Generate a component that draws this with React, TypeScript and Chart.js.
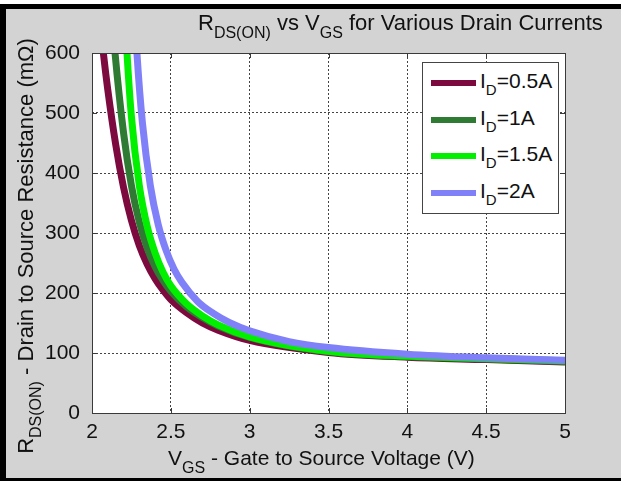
import React, { useEffect, useRef } from "react";
import { Chart, registerables } from "chart.js";

Chart.register(...registerables);

// ---- data ----
const seriesLabels = ["0.5A", "1A", "1.5A", "2A"];
const seriesColors = ["#7c0a3f", "#2f7b33", "#00f000", "#8080f8"];

const vgs05 = [2.03, 2.072, 2.1, 2.15, 2.2, 2.25, 2.3, 2.35, 2.4, 2.45, 2.5, 2.6, 2.7, 2.8, 3.0, 3.5, 4.0, 4.5, 5.0];
const rds05 = [707, 600, 539, 448, 376, 321, 279, 248, 224, 205, 189, 167, 150, 138, 121, 101, 93, 89, 85];

const vgs10 = [2.11, 2.146, 2.2, 2.25, 2.3, 2.35, 2.4, 2.45, 2.5, 2.6, 2.7, 2.8, 3.0, 3.5, 4.0, 4.5, 5.0];
const rds10 = [717, 600, 467, 379, 318, 275, 244, 221, 203, 177, 159, 145, 126, 102, 94, 90, 86];

const vgs15 = [2.2, 2.222, 2.25, 2.3, 2.35, 2.4, 2.45, 2.5, 2.6, 2.7, 2.8, 3.0, 3.5, 4.0, 4.5, 5.0];
const rds15 = [714, 600, 494, 379, 311, 267, 235, 212, 182, 162, 147, 127, 103, 95, 91, 87];

const vgs20 = [2.26, 2.285, 2.32, 2.37, 2.42, 2.47, 2.52, 2.57, 2.67, 2.77, 2.87, 3.0, 3.25, 3.5, 4.0, 4.5, 5.0];
const rds20 = [721, 600, 483, 379, 314, 271, 240, 218, 186, 166, 151, 137, 119, 109, 98, 92, 88];

const xTicks = [2, 2.5, 3, 3.5, 4, 4.5, 5];
const yTicks = [0, 100, 200, 300, 400, 500, 600];

const seriesX = [vgs05, vgs10, vgs15, vgs20];
const seriesY = [rds05, rds10, rds15, rds20];

const FONT = "'Liberation Sans', Arial, Helvetica, sans-serif";

const boxPlugin = {
  id: "matlabBox",
  beforeDraw(chart: any) {
    const { ctx, chartArea: a } = chart;
    ctx.save();
    ctx.fillStyle = "#ffffff";
    ctx.fillRect(a.left, a.top, a.right - a.left, a.bottom - a.top);
    ctx.restore();
  },
  afterDatasetsDraw(chart: any) {
    const { ctx, chartArea: a, scales } = chart;
    ctx.save();
    ctx.strokeStyle = "#3a3a3a";
    ctx.lineWidth = 1;
    ctx.strokeRect(Math.round(a.left) + 0.5, Math.round(a.top) + 0.5, Math.round(a.right - a.left), Math.round(a.bottom - a.top));
    const tl = 5;
    ctx.beginPath();
    for (const v of xTicks) {
      const x = Math.round(scales.x.getPixelForValue(v)) + 0.5;
      ctx.moveTo(x, a.bottom);
      ctx.lineTo(x, a.bottom - tl);
      ctx.moveTo(x, a.top);
      ctx.lineTo(x, a.top + tl);
    }
    for (const v of yTicks) {
      const y = Math.round(scales.y.getPixelForValue(v)) + 0.5;
      ctx.moveTo(a.left, y);
      ctx.lineTo(a.left + tl, y);
      ctx.moveTo(a.right, y);
      ctx.lineTo(a.right - tl, y);
    }
    ctx.stroke();
    ctx.restore();
  },
};

const sub = (t: string, size = 15, top = 7) => (
  <span style={{ fontSize: size, position: "relative", top }}>{t}</span>
);

export default function App() {
  const ref = useRef<HTMLCanvasElement | null>(null);

  useEffect(() => {
    if (!ref.current) return;
    const datasets = seriesLabels.map((lab, i) => ({
      label: "ID=" + lab,
      data: seriesX[i].map((x, j) => ({ x, y: seriesY[i][j] })),
      borderColor: seriesColors[i],
      backgroundColor: seriesColors[i],
      borderWidth: 7,
      pointRadius: 0,
      showLine: true,
      fill: false,
      cubicInterpolationMode: "monotone" as const,
      clip: 0,
      order: seriesLabels.length - i,
    }));
    const chart = new Chart(ref.current, {
      type: "scatter",
      data: { datasets },
      plugins: [boxPlugin],
      options: {
        animation: false,
        responsive: false,
        devicePixelRatio: 1,
        layout: { padding: { top: 53, right: 56, left: 0, bottom: 0 } },
        plugins: { legend: { display: false }, tooltip: { enabled: false }, title: { display: false } },
        scales: {
          x: {
            type: "linear",
            min: 2,
            max: 5,
            afterBuildTicks: (s: any) => {
              s.ticks = xTicks.map((v) => ({ value: v }));
            },
            afterFit: (s: any) => {
              s.height = 68;
            },
            ticks: {
              font: { family: FONT, size: 21 },
              color: "#111",
              padding: 7,
              maxRotation: 0,
              callback: (v: any) => String(v),
            },
            grid: { color: "#444", lineWidth: 1, drawTicks: false },
            border: { display: false, dash: [2, 2] },
          },
          y: {
            type: "linear",
            min: 0,
            max: 600,
            afterBuildTicks: (s: any) => {
              s.ticks = yTicks.map((v) => ({ value: v }));
            },
            afterFit: (s: any) => {
              s.width = 92;
            },
            ticks: {
              font: { family: FONT, size: 21 },
              color: "#111",
              padding: 12,
              callback: (v: any) => String(v),
            },
            grid: { color: "#444", lineWidth: 1, drawTicks: false },
            border: { display: false, dash: [2, 2] },
          },
        },
      },
    } as any);
    return () => chart.destroy();
  }, []);

  const legendRows = seriesLabels.map((lab, i) => (
    <div key={lab} style={{ position: "absolute", left: 0, top: 5 + i * 36.5, height: 30, width: 135 }}>
      <div style={{ position: "absolute", left: 8, top: 12, width: 45, height: 6, background: seriesColors[i] }} />
      <div style={{ position: "absolute", left: 57, top: 0, fontSize: 21, lineHeight: "26px", whiteSpace: "nowrap", color: "#111" }}>
        I{sub("D", 15, 7)}={lab}
      </div>
    </div>
  ));

  return (
    <div style={{ position: "absolute", left: 0, top: 0, width: 621, height: 481, overflow: "hidden", background: "#fff", fontFamily: FONT }}>
      <div
        style={{
          position: "absolute",
          left: 0,
          top: 4,
          width: 640,
          height: 477,
          boxSizing: "border-box",
          borderLeft: "6px solid #000",
          borderTop: "5px solid #000",
          borderBottom: "3px solid #000",
          background: "#d3d3d3",
        }}
      />
      <canvas ref={ref} width={621} height={481} style={{ position: "absolute", left: 0, top: 0, width: 621, height: 481 }} />
      {/* title */}
      <div style={{ position: "absolute", left: 198, top: 10, fontSize: 22, lineHeight: "26px", whiteSpace: "nowrap", color: "#111" }}>
        R{sub("DS(ON)", 16, 8)} vs V{sub("GS", 16, 8)} for Various Drain Currents
      </div>
      {/* x axis title */}
      <div style={{ position: "absolute", left: 168, top: 446, fontSize: 21, lineHeight: "24px", whiteSpace: "nowrap", color: "#111" }}>
        V{sub("GS", 16, 8)} - Gate to Source Voltage (V)
      </div>
      {/* y axis title */}
      <div
        style={{
          position: "absolute",
          left: 26 - 240,
          top: 246 - 13,
          width: 480,
          height: 26,
          lineHeight: "26px",
          textAlign: "center",
          fontSize: 22,
          whiteSpace: "nowrap",
          color: "#111",
          transform: "rotate(-90deg)",
          transformOrigin: "50% 50%",
        }}
      >
        R{sub("DS(ON)", 16, 8)} - Drain to Source Resistance (mΩ)
      </div>
      {/* legend */}
      <div
        style={{
          position: "absolute",
          left: 422,
          top: 62,
          width: 137,
          height: 152,
          boxSizing: "border-box",
          border: "1px solid #444",
          background: "#fff",
        }}
      >
        {legendRows}
      </div>
    </div>
  );
}
